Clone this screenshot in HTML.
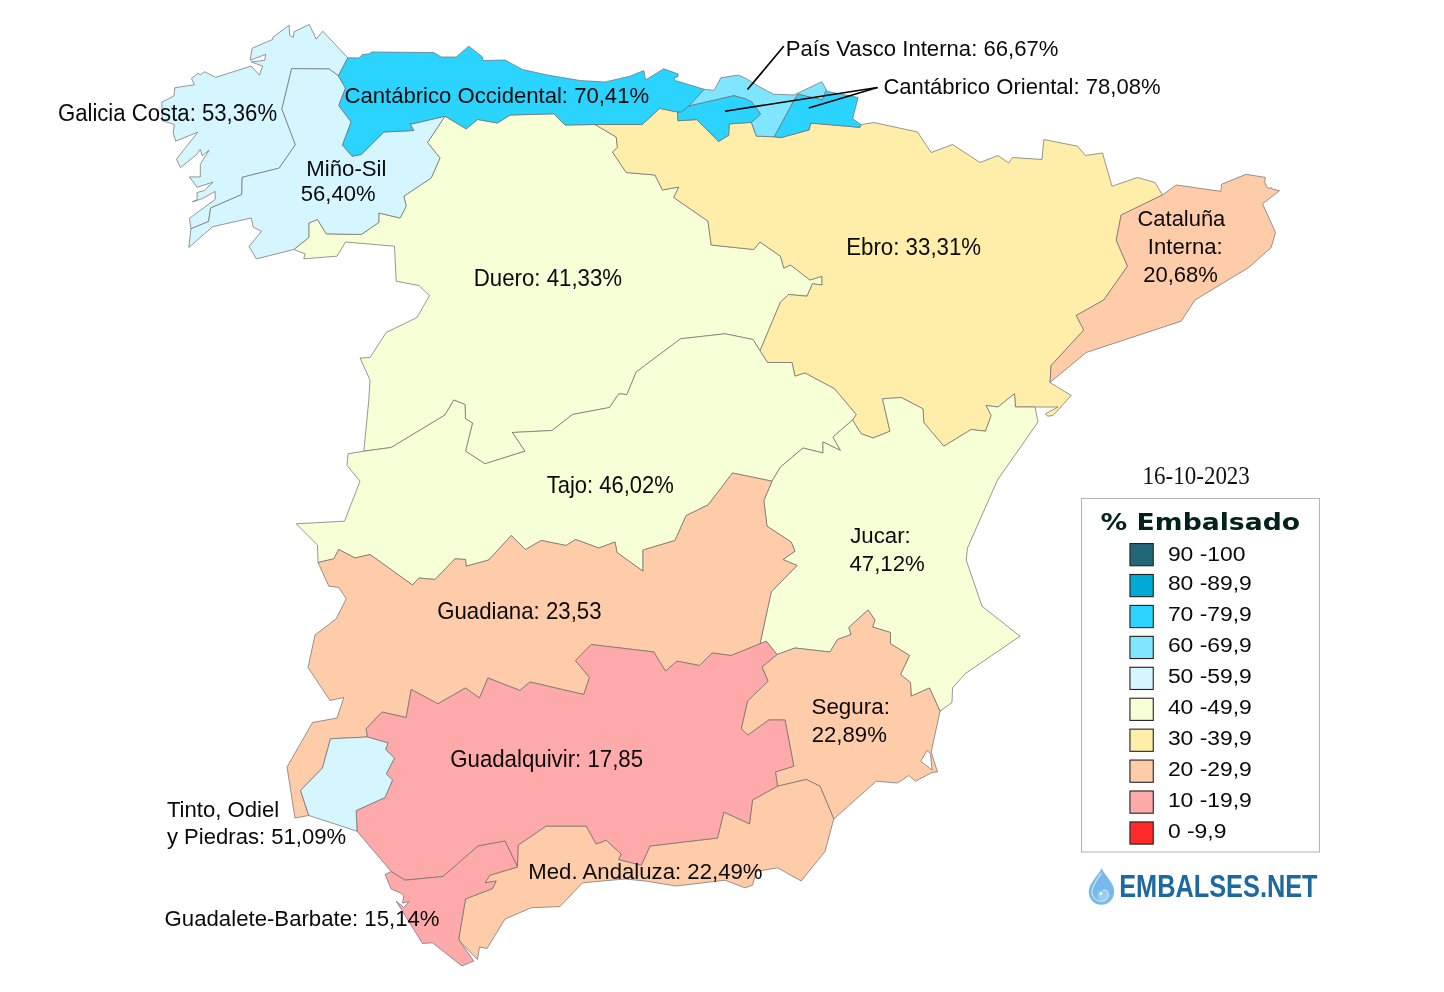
<!DOCTYPE html>
<html lang="es"><head><meta charset="utf-8"><title>Embalses.net - % Embalsado por cuencas</title>
<style>
html,body{margin:0;padding:0;background:#fff}
body{width:1444px;height:992px;overflow:hidden}
svg{display:block}
.r{stroke:#6c6c6c;stroke-width:0.7;stroke-linejoin:round}
.l{font-family:"Liberation Sans",Arial,sans-serif;font-size:22.15px;fill:#0a0a0a}
.k{font-family:"Liberation Sans",Arial,sans-serif;font-size:22.9px;fill:#0a0a0a}
.s{stroke:#222;stroke-width:1.1}
</style></head><body>
<svg width="1444" height="992" viewBox="0 0 1444 992">
<rect width="1444" height="992" fill="#ffffff"/>
<g class="r">
<polygon id="duero" fill="#f6ffd5" points="445,116.2 466.2,128.8 477.5,119.5 497.5,123 510,115 553.8,113.8 565,125 595,124.5 616.2,137 617.5,147.5 612.5,152 626.2,172.5 655,175 662.5,190 678.8,187 673.8,197.5 708,221.2 711.2,245 753.8,249.5 760,242 780.5,256.2 783.8,268 790.5,265 810,280 822,276.2 822,285 812.5,283.8 807,296.2 788.8,294.5 780.5,302 760,350.8 753,339.5 725,333.8 680.5,338.8 636.2,372 627,394.5 618.8,393.8 609.5,407.5 572.5,414.5 552,430.5 512.5,432.5 525,451.2 485,463.8 465.5,451.2 472.5,423 465.5,418.8 465,404.5 453.8,400 445,415 391.2,447.5 363.8,451.2 368.8,400 370,380 360,358 370,357.5 386.2,332.5 417,317.5 429.5,295.5 418.8,285.5 396.2,281.2 394.5,246.2 345.5,242 337,256.2 303.8,258.8 305,253.8 293.8,249.5 308.8,237.5 308.8,223 317.5,219.5 326.2,233.8 361.2,234.5 378.8,222.5 378.8,213 400,218 406.2,206.2 403.8,196.2 431.2,178 440,158 427.5,142.5"/>
<polygon id="ebro" fill="#ffeeaa" points="595,124.5 642.3,124.5 659.6,108.4 677.6,112 677.9,120.7 696.8,119.6 718.7,141.4 728.6,135.3 729.3,123.9 751.4,122.4 756.3,136.1 774.3,136.8 781.1,137.6 809,130 810.8,123.1 859.9,127.4 861.1,124.7 873.8,122.5 917.5,132 931.2,152.5 952.5,144.5 980,162.5 998,155.5 1008.8,163 1012.5,157.5 1042,159.5 1043.8,139.5 1077.5,146.2 1085.5,155.5 1102.5,153 1112,186.2 1137.5,177.5 1155,182.5 1162.5,195 1121.2,215 1116.2,240 1127.5,266.2 1103.8,300 1076.2,315.5 1083.8,330 1051.2,365.5 1050,382.5 1071.2,395.5 1053,415.5 1047.5,416.2 1045.5,413.8 1058,407 1035,407 1015.5,407 1014.5,393.8 998,407 986.2,405.5 991.2,415.5 985.5,431.2 971.2,429.5 943.8,446.2 923.8,422.5 923,408.8 901.2,397.5 882.5,398.8 890,431.2 873,438 861.2,433.8 852.5,420 856.2,414.5 834.5,388.8 805,373 795,376.2 792,362.5 767.5,362.5 760,350.8 780.5,302 788.8,294.5 807,296.2 812.5,283.8 822,285 822,276.2 810,280 790.5,265 783.8,268 780.5,256.2 760,242 753.8,249.5 711.2,245 708,221.2 673.8,197.5 678.8,187 662.5,190 655,175 626.2,172.5 612.5,152 617.5,147.5 616.2,137"/>
<polygon id="tajo" fill="#f6ffd5" points="363.8,451.2 391.2,447.5 445,415 453.8,400 465,404.5 465.5,418.8 472.5,423 465.5,451.2 485,463.8 525,451.2 512.5,432.5 552,430.5 572.5,414.5 609.5,407.5 618.8,393.8 627,394.5 636.2,372 680.5,338.8 725,333.8 753,339.5 760,350.8 767.5,362.5 792,362.5 795,376.2 805,373 834.5,388.8 856.2,414.5 852.5,420 833,437 840.5,450.5 823,442 823,453 803,448 780.5,467 772,481.2 732.5,473 708,505 686.2,515.5 675,540.5 643,550 643,571.2 617,552.5 615,542 598.8,548 575.5,539.5 566.2,545.5 541.2,540.5 525.5,549.5 511.2,535.5 488.8,560 466.2,566.2 465.5,559.5 455,558.8 435,579.5 418.8,578 412.5,585 370,554.5 355,558 338.8,549.5 333.8,558.8 318,562.5 317.5,545 296.2,523.8 344.5,521.2 360,481.2 347,465.5 348,453.8"/>
<polygon id="jucar" fill="#f6ffd5" points="852.5,420 861.2,433.8 873,438 890,431.2 882.5,398.8 901.2,397.5 923,408.8 923.8,422.5 943.8,446.2 971.2,429.5 985.5,431.2 991.2,415.5 986.2,405.5 998,407 1014.5,393.8 1015.5,407 1035,407 1038,422 997.5,480 967.5,548 966.2,560 982,606.2 1020,636.2 965,673.8 952.5,688 952,702.5 940,711.2 929.5,688 911.2,696.2 910.5,682.5 900.5,674.5 909.5,655.5 890.5,643.8 890.5,632.5 872.5,627 875,620 868,610 848.8,627.5 851.2,634.5 837.5,639.5 830,652 795,648 777,654.5 766.2,641.2 760,643.8 771.2,592 797,565.5 783,559.5 795,551.2 791.2,542 767,526.2 763.8,500.5 772,481.2 780.5,467 803,448 823,453 823,442 840.5,450.5 833,437"/>
<polygon id="guadiana" fill="#ffccaa" points="318,562.5 333.8,558.8 338.8,549.5 355,558 370,554.5 412.5,585 418.8,578 435,579.5 455,558.8 465.5,559.5 466.2,566.2 488.8,560 511.2,535.5 525.5,549.5 541.2,540.5 566.2,545.5 575.5,539.5 598.8,548 615,542 617,552.5 643,571.2 643,550 675,540.5 686.2,515.5 708,505 732.5,473 772,481.2 763.8,500.5 767,526.2 791.2,542 795,551.2 783,559.5 797,565.5 771.2,592 760,643.8 731.2,655.5 712,653 699.5,665.5 677,661.2 665.5,671.2 653.8,652 591.2,644.5 575.5,660.5 589.5,677.5 583.8,694.5 530,682 520,690.5 488,678 479.5,698 465.5,688 438,703.8 411.2,689.5 406.2,717.5 382,712 366.2,728.8 367.5,737 330.5,738.8 322.5,768 300.5,790.5 308.8,815.5 295,818 287,767 312.5,722.5 337,718 343.8,697.5 330,700.5 308,667.5 315,635 336.2,618.8 346.2,598.8 338.8,587.5 328.8,586.2"/>
<polygon id="catal" fill="#ffccaa" points="1162.5,195 1176.2,185 1220.9,191.3 1221.6,184.3 1245.9,174.3 1265.4,177.4 1264.7,182.3 1266.8,186.8 1269.5,188.5 1271.3,187.5 1272.3,189.2 1279.6,190.6 1262.6,203.8 1275.5,232.5 1271.2,247.5 1248.8,267.5 1195,300 1181.2,321.2 1086.2,352.5 1050,382.5 1051.2,365.5 1083.8,330 1076.2,315.5 1103.8,300 1127.5,266.2 1116.2,240 1121.2,215"/>
<polygon id="segura" fill="#ffccaa" points="777,654.5 795,648 830,652 837.5,639.5 851.2,634.5 848.8,627.5 868,610 875,620 872.5,627 890.5,632.5 890.5,643.8 909.5,655.5 900.5,674.5 910.5,682.5 911.2,696.2 929.5,688 940,711.2 931.2,752 937.5,772 932,772.5 915.5,781.2 908.8,775.5 897.5,783 876.2,781.2 833.8,819 820,786.2 806.2,779.5 777.5,786.2 775.5,772 793.8,766.2 785,720 768.8,720 748,735 741.2,728.8 747.5,701.2 768,681.2 762,667"/>
<polygon id="med" fill="#ffccaa" points="777.5,786.2 806.2,779.5 820,786.2 833.8,819 825,851.5 801.2,881 777.5,867.8 756.2,871.5 752.5,885.2 745,887.8 725,880.2 676.2,886 645,881 625,879 582.5,882.8 560,906.5 531.2,907.8 505,919 487,948.5 479.5,947 477.5,959.5 460,941.5 458.8,938.5 465.5,899 492.5,888.5 496.2,881 485,882.8 490,875.2 517.5,867 518,845.2 546.2,826 586.2,826 596.2,844 606.2,840.2 621.2,854 618.8,859.5 641.2,865.2 650,846 717.5,838 723.8,812 749.5,823.8 752.5,800"/>
<polygon id="guadalq" fill="#ffaaaa" points="367.5,737 366.2,728.8 382,712 406.2,717.5 411.2,689.5 438,703.8 465.5,688 479.5,698 488,678 520,690.5 530,682 583.8,694.5 589.5,677.5 575.5,660.5 591.2,644.5 653.8,652 665.5,671.2 677,661.2 699.5,665.5 712,653 731.2,655.5 760,643.8 766.2,641.2 777,654.5 762,667 768,681.2 747.5,701.2 741.2,728.8 748,735 768.8,720 785,720 793.8,766.2 775.5,772 777.5,786.2 752.5,800 749.5,823.8 723.8,812 717.5,838 650,846 641.2,865.2 618.8,859.5 621.2,854 606.2,840.2 596.2,844 586.2,826 546.2,826 518,845.2 517.5,867 505,841 478,846 443,876.5 405,880.2 391.2,871.5 357,831.2 356.2,810.5 385,797.5 392.5,780 386.2,773.8 394.5,758 385.5,749.5 388,743"/>
<polygon id="guadalete" fill="#ffaaaa" points="517.5,867 490,875.2 485,882.8 496.2,881 492.5,888.5 465.5,899 458.8,938.5 460,941.5 473.8,961 462,966 432.5,942.8 422.5,943.5 396.2,901.2 403.8,907.5 409,901.8 402.5,903 403.8,895.5 401.5,893.5 391.2,889 385,874.5 391.2,871.5 405,880.2 443,876.5 478,846 505,841"/>
<polygon id="tinto" fill="#d5f6ff" points="308.8,815.5 300.5,790.5 322.5,768 330.5,738.8 367.5,737 388,743 385.5,749.5 394.5,758 386.2,773.8 392.5,780 385,797.5 356.2,810.5 357,831.2"/>
<polygon id="galicia" fill="#d5f6ff" points="347.8,57.8 322.8,31.2 316.2,39.1 309.3,24.5 294.2,31.6 293.3,37.4 289.6,35.3 289.2,25.3 273,37 272.6,39.5 252.2,48.2 250.1,60.3 265.7,54.4 264.7,60.3 251.2,61.9 262.6,66.1 259.5,75.2 251.2,66.1 215.8,77.3 204.4,71.7 200.3,74.8 198.2,73.1 191.5,78.5 194.4,84.8 174.9,87.7 173.9,96 161.8,102.2 162.4,120.8 174.3,124.5 173.2,133.2 175.7,141.1 197.8,132.2 176.4,159.2 180.5,167.5 196.1,155.1 200.3,149.4 202.3,155.7 209,150.3 200.3,164.4 200.3,176.9 189.4,176.9 197.1,187.3 213.1,182.1 204.4,190.4 197.1,192.5 197.1,199.7 192.4,201.8 202.3,198.7 215.2,191.4 215.2,199.3 189.4,218.4 190.9,228.8 208.6,221.5 210.6,208 241.8,194.5 242.2,177.3 279.2,168.1 295.4,144.7 281.9,109.1 291.7,68.6 329.1,69 338.4,75.8"/>
<polygon id="mino" fill="#d5f6ff" points="190.9,228.8 208.6,221.5 210.6,208 241.8,194.5 242.2,177.3 279.2,168.1 295.4,144.7 281.9,109.1 291.7,68.6 329.1,69 338.4,75.8 345.5,88 338.8,105.5 351.2,122 342.5,145 352,156.2 361.2,154.5 383.8,132 413.8,130.5 410,123.8 412.5,123.8 445,116.2 427.5,142.5 440,158 431.2,178 403.8,196.2 406.2,206.2 400,218 378.8,213 378.8,222.5 361.2,234.5 326.2,233.8 317.5,219.5 308.8,223 308.8,237.5 293.8,249.5 256.4,258.9 249.1,246.5 261.5,231.3 253.2,227.2 251.2,218 212.7,226.7 188.8,247.5"/>
<polygon id="cantocc" fill="#2ad4ff" points="347.8,57.8 358.8,58 362.5,54.5 370,53.8 371.2,52 433.8,52.5 441.2,57 456.2,57 468.8,46.2 482.5,57 483,60.5 505,60 522.5,69.5 547.5,75 580,80.5 605,82 630,76.2 643.8,70.5 645.5,80 663.8,68.8 678.3,74.1 678,76.7 674,77.7 675.2,80.5 704.2,89.3 688.9,106.1 681.2,112.3 677.6,112 659.6,108.4 642.3,124.5 595,124.5 565,125 553.8,113.8 510,115 497.5,123 477.5,119.5 466.2,128.8 445,116.2 412.5,123.8 410,123.8 413.8,130.5 383.8,132 361.2,154.5 352,156.2 342.5,145 351.2,122 338.8,105.5 345.5,88 338.4,75.8"/>
<polygon id="pv" fill="#80e5ff" points="704.2,89.3 714.1,90.4 720.9,77.7 738.5,75.1 746.8,78.9 759,86.6 773.5,94.2 794.1,94.9 821.8,81.7 826.4,89.9 822.3,100 797.9,94.2 794.1,100.3 774.3,136.8 756.3,136.1 751.4,122.4 760.6,114 751.4,101.8 745.3,98.8 733.9,95.7 688.9,106.1"/>
<polygon id="col" fill="#2ad4ff" points="688.9,106.1 733.9,95.7 745.3,98.8 751.4,101.8 760.6,114 751.4,122.4 729.3,123.9 728.6,135.3 718.7,141.4 696.8,119.6 677.9,120.7 677.6,112 681.2,112.3"/>
<polygon id="cor" fill="#2ad4ff" points="797.9,94.2 822.3,100 826.4,89.9 827.6,91.4 858.1,97.5 852.7,118.6 861.1,124.7 859.9,127.4 810.8,123.1 809,130 781.1,137.6 774.3,136.8 794.1,100.3"/>
<polygon id="marmenor" fill="#ffffff" points="927,750.5 920.8,761.2 932,770 930.5,753.8"/>
</g>
<g stroke="#000" stroke-width="1.7" stroke-linecap="butt"><line x1="783.75" y1="46.25" x2="747.5" y2="89.5"/><line x1="877.5" y1="87.5" x2="725" y2="111.25"/><line x1="877.5" y1="87.5" x2="808.75" y2="108"/></g>
<g class="l">
<text transform="translate(57.9,121) scale(1,1.075)" font-size="22.17">Galicia Costa: 53,36%</text>
<text transform="translate(344.45,102.8) scale(1,1.015)" font-size="22.12">Cantábrico Occidental: 70,41%</text>
<text transform="translate(785.8,55.5) scale(1,1.015)" font-size="22.14">País Vasco Interna: 66,67%</text>
<text transform="translate(883.4,93.75) scale(1,1.025)" font-size="22.08">Cantábrico Oriental: 78,08%</text>
<text transform="translate(306.33,175.75) scale(1,1.015)" font-size="22.2">Miño-Sil</text>
<text transform="translate(300.8,200.75) scale(1,1.015)" font-size="22.1">56,40%</text>
<text transform="translate(473.77,285.75) scale(1,1.06)" font-size="22.25">Duero: 41,33%</text>
<text transform="translate(846.15,254.5) scale(1,1.065)" font-size="22.3">Ebro: 33,31%</text>
<text transform="translate(1137.5,226.25) scale(1,1.03)" font-size="21.95">Cataluña</text>
<text transform="translate(1147.85,254.25) scale(1,1.03)" font-size="22.1">Interna:</text>
<text transform="translate(1143.22,282.25) scale(1,1.025)" font-size="22.05">20,68%</text>
<text transform="translate(546.72,492.75) scale(1,1.055)" font-size="21.99">Tajo: 46,02%</text>
<text transform="translate(850.22,543) scale(1,1.03)" font-size="22.23">Jucar:</text>
<text transform="translate(849.47,570.75) scale(1,1.03)" font-size="22.21">47,12%</text>
<text transform="translate(437.22,619.25) scale(1,1.035)" font-size="22.22">Guadiana: 23,53</text>
<text transform="translate(450.22,766.5) scale(1,1.04)" font-size="22.26">Guadalquivir: 17,85</text>
<text transform="translate(811.52,714) scale(1,1.015)" font-size="22.38">Segura:</text>
<text transform="translate(811.7,742.25) scale(1,1.015)" font-size="22.19">22,89%</text>
<text transform="translate(166.9,816.75) scale(1,1.015)" font-size="22.14">Tinto, Odiel</text>
<text transform="translate(166.95,843.75) scale(1,1.015)" font-size="22.08">y Piedras: 51,09%</text>
<text transform="translate(528.27,879.25) scale(1,1.015)" font-size="22.19">Med. Andaluza: 22,49%</text>
<text transform="translate(164.62,925.75) scale(1,1.015)" font-size="22.19">Guadalete-Barbate: 15,14%</text>
</g>
<text transform="translate(1142.6,483.6) scale(1,1.06)" font-family="'Liberation Serif','Times New Roman',serif" font-size="23" fill="#111">16-10-2023</text>
<rect x="1081.5" y="498.5" width="238" height="353.5" fill="#fff" stroke="#b4b4b4" stroke-width="1"/>
<text x="1100.6" y="530.2" font-family="'DejaVu Sans',Verdana,sans-serif" font-weight="bold" font-size="22.6" fill="#03221b" textLength="199.6" lengthAdjust="spacingAndGlyphs">% Embalsado</text>
<g class="k">
<rect class="s" x="1129.95" y="543.55" width="23.3" height="22.2" fill="#216778"/><text transform="translate(1167.9,561.4) scale(1,0.88)">90 -100</text>
<rect class="s" x="1129.95" y="574.48" width="23.3" height="22.2" fill="#00aad4"/><text transform="translate(1167.9,590.3) scale(1,0.88)">80 -89,9</text>
<rect class="s" x="1129.95" y="605.41" width="23.3" height="22.2" fill="#2ad4ff"/><text transform="translate(1167.9,621.3) scale(1,0.88)">70 -79,9</text>
<rect class="s" x="1129.95" y="636.34" width="23.3" height="22.2" fill="#80e5ff"/><text transform="translate(1167.9,652.3) scale(1,0.88)">60 -69,9</text>
<rect class="s" x="1129.95" y="667.27" width="23.3" height="22.2" fill="#d5f6ff"/><text transform="translate(1167.9,683.3) scale(1,0.88)">50 -59,9</text>
<rect class="s" x="1129.95" y="698.2" width="23.3" height="22.2" fill="#f6ffd5"/><text transform="translate(1167.9,714.3) scale(1,0.88)">40 -49,9</text>
<rect class="s" x="1129.95" y="729.13" width="23.3" height="22.2" fill="#ffeeaa"/><text transform="translate(1167.9,745.3) scale(1,0.88)">30 -39,9</text>
<rect class="s" x="1129.95" y="760.06" width="23.3" height="22.2" fill="#ffccaa"/><text transform="translate(1167.9,776.3) scale(1,0.88)">20 -29,9</text>
<rect class="s" x="1129.95" y="790.99" width="23.3" height="22.2" fill="#ffaaaa"/><text transform="translate(1167.9,807.3) scale(1,0.88)">10 -19,9</text>
<rect class="s" x="1129.95" y="821.92" width="23.3" height="22.2" fill="#ff2a2a"/><text transform="translate(1167.9,838.3) scale(1,0.88)">0 -9,9</text>
</g>
<g transform="translate(1082,862) scale(0.04838)">
<path d="M405,130 C440,210 520,300 600,420 C650,500 668,560 665,620 C660,760 560,885 400,885 C240,885 140,750 140,610 C140,540 175,470 230,390 C300,290 370,210 405,130 Z" fill="#77b9ea"/>
<circle cx="435" cy="690" r="112" fill="#9acbf0"/>
<path d="M400,235 C330,330 215,470 205,610 C200,720 290,812 390,812 C480,812 548,745 548,672 C548,612 500,575 450,582" fill="none" stroke="#c6e3f8" stroke-width="26" stroke-linecap="round"/>
<circle cx="392" cy="655" r="30" fill="#ffffff"/>
</g>
<text x="1119.2" y="897" font-family="'Liberation Sans',Arial,sans-serif" font-weight="bold" font-size="31" fill="#1c6a9d" textLength="198.4" lengthAdjust="spacingAndGlyphs">EMBALSES.NET</text>
</svg></body></html>
